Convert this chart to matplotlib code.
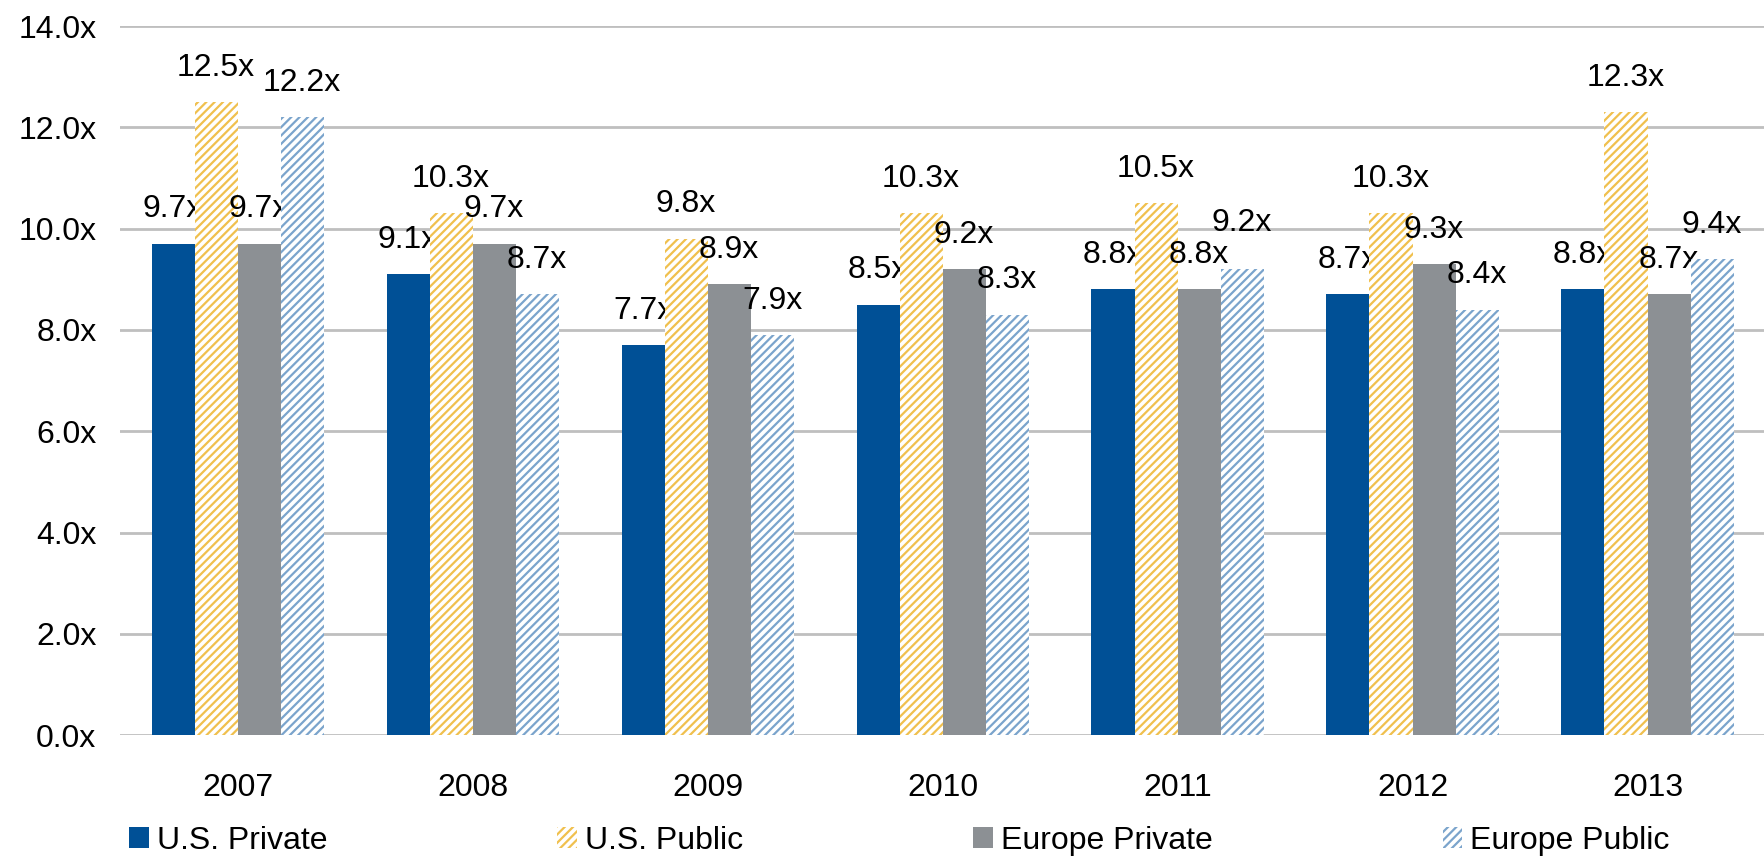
import numpy as np
import matplotlib
matplotlib.use("Agg")
import matplotlib.pyplot as plt

# chart data
years = ["2007", "2008", "2009", "2010", "2011", "2012", "2013"]
us_private = [9.7, 9.1, 7.7, 8.5, 8.8, 8.7, 8.8]
us_public = [12.5, 10.3, 9.8, 10.3, 10.5, 10.3, 12.3]
eu_private = [9.7, 9.7, 8.9, 9.2, 8.8, 9.3, 8.7]
eu_public = [12.2, 8.7, 7.9, 8.3, 9.2, 8.4, 9.4]
y_ticks = [0, 2, 4, 6, 8, 10, 12, 14]

plt.rcParams["font.family"] = ["Liberation Sans", "DejaVu Sans"]
plt.rcParams["hatch.linewidth"] = 1.6

FS = 23
fig = plt.figure(figsize=(17.65, 8.67), dpi=100)
ax = fig.add_axes([0.068, 0.152, 0.932, 0.818])

x = np.arange(len(years))
w = 0.183

series = [
    ("U.S. Private", us_private, dict(color="#005096")),
    ("U.S. Public", us_public, dict(facecolor="white", edgecolor="#F0C04E", hatch="////", linewidth=0)),
    ("Europe Private", eu_private, dict(color="#8C9094")),
    ("Europe Public", eu_public, dict(facecolor="white", edgecolor="#7BA4CC", hatch="////", linewidth=0)),
]

labels = [[] for _ in years]
for i, (name, vals, style) in enumerate(series):
    pos = x + (i - 1.5) * w
    bars = ax.bar(pos, vals, w, label=name, zorder=3, **style)
    for j, (b, v) in enumerate(zip(bars, vals)):
        a = ax.annotate(f"{v:.1f}x", (b.get_x() + b.get_width() / 2, v),
                        xytext=(0, 14), textcoords="offset points",
                        ha="center", va="bottom", fontsize=FS)
        labels[j].append((v, a))

ax.set_ylim(0, 14)
ax.set_xlim(-0.5, len(years) - 0.5)
ax.set_yticks(y_ticks)
ax.set_yticklabels([f"{t:.1f}x" for t in y_ticks], fontsize=FS)
ax.set_xticks(x)
ax.set_xticklabels(years, fontsize=FS)
ax.tick_params(length=0)
ax.tick_params(axis="x", pad=27)
ax.tick_params(axis="y", pad=17)
ax.yaxis.grid(True, color="#BFBFBF", lw=2)
ax.set_axisbelow(True)
for s in ax.spines.values():
    s.set_visible(False)

fig.legend(loc="center left", bbox_to_anchor=(0.073, 0.03), ncol=4,
           frameon=False, fontsize=FS, handlelength=0.62, handleheight=0.62,
           handletextpad=0.25, columnspacing=7.2, borderaxespad=0, borderpad=0)

# push value labels up when they collide inside a year group
fig.canvas.draw()
r = fig.canvas.get_renderer()
for group in labels:
    placed = []
    for v, a in sorted(group, key=lambda t: t[0]):
        bb = a.get_window_extent(r)
        moved = True
        while moved:
            moved = False
            for p in placed:
                if bb.overlaps(p):
                    dy = (p.y1 - bb.y0 + 2) * 72 / fig.dpi
                    a.xyann = (0, a.xyann[1] + dy)
                    bb = a.get_window_extent(r)
                    moved = True
        placed.append(bb)

fig.savefig("out.png", dpi=100)
